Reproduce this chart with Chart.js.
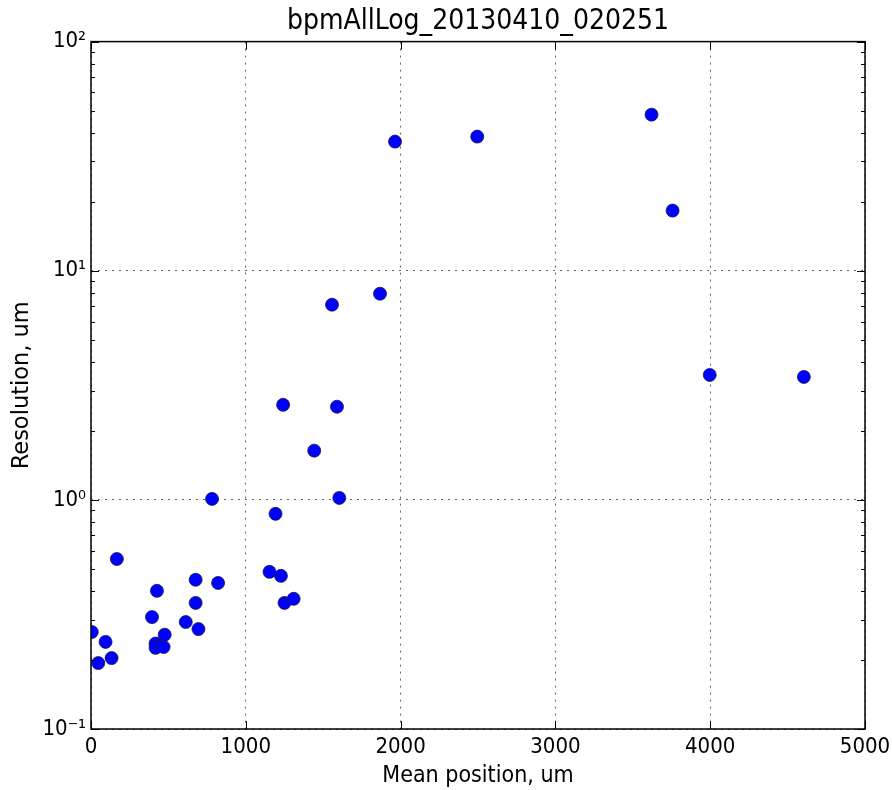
<!DOCTYPE html>
<html>
<head>
<meta charset="utf-8">
<script src="https://cdn.jsdelivr.net/npm/chart.js@4"></script>
<style>
  html, body { margin: 0; padding: 0; background: #fff; }
  #wrap { width: 892px; height: 790px; }
</style>
</head>
<body>
<div id="wrap"><canvas id="chart" width="892" height="790"></canvas></div>
<script>
// mean position (um) and resolution (um)
const meanPos = [5, 47, 94, 133, 167, 394, 426, 417, 417, 469, 476, 612, 676, 676, 694, 821, 782,
  1153, 1227, 1250, 1309, 1192, 1241, 1442, 1557, 1589, 1604, 1867, 1964, 2495, 3621, 3757, 3997, 4605];
const resolution = [0.265, 0.194, 0.240, 0.204, 0.552, 0.308, 0.401, 0.236, 0.226, 0.228, 0.258, 0.293,
  0.448, 0.355, 0.273, 0.434, 1.01, 0.485, 0.466, 0.355, 0.370, 0.869, 2.60, 1.64, 7.11, 2.55, 1.02,
  7.94, 36.6, 38.5, 48.0, 18.3, 3.51, 3.44];
const xTicks = [0, 1000, 2000, 3000, 4000, 5000];
const yTicks = [0.1, 1, 10, 100];
const yTickLabels = ['10⁻¹', '10⁰', '10¹', '10²'];

const FONT = "'DejaVu Sans Condensed', 'DejaVu Sans', sans-serif";

// frame + inward tick marks, like matplotlib
const frameTicks = {
  id: 'frameTicks',
  afterDatasetsDraw(chart) {
    const { ctx, chartArea: a, scales: { x, y } } = chart;
    ctx.save();
    ctx.strokeStyle = '#000';
    ctx.lineWidth = 1;
    ctx.beginPath();
    xTicks.forEach(v => {
      const px = Math.round(x.getPixelForValue(v)) + 0.5;
      ctx.moveTo(px, a.bottom); ctx.lineTo(px, a.bottom - 8);
      ctx.moveTo(px, a.top); ctx.lineTo(px, a.top + 8);
    });
    for (let e = -1; e <= 2; e++) {
      for (let m = 1; m <= 9; m++) {
        const v = m * Math.pow(10, e);
        if (v > 100) break;
        const len = m === 1 ? 8 : 4;
        const py = Math.round(y.getPixelForValue(v)) + 0.5;
        ctx.moveTo(a.left, py); ctx.lineTo(a.left + len, py);
        ctx.moveTo(a.right, py); ctx.lineTo(a.right - len, py);
      }
    }
    ctx.stroke();
    ctx.lineWidth = 1.5;
    ctx.strokeRect(a.left, a.top, a.right - a.left, a.bottom - a.top);
    ctx.restore();
  }
};

new Chart(document.getElementById('chart'), {
  type: 'scatter',
  data: {
    datasets: [{
      data: meanPos.map((v, i) => ({ x: v, y: resolution[i] })),
      backgroundColor: '#0000ff',
      borderColor: '#1a1a40',
      borderWidth: 0.8,
      pointRadius: 6.5,
      pointHoverRadius: 6.5
    }]
  },
  options: {
    responsive: false,
    animation: false,
    layout: { padding: { left: 0, right: 27, top: 0, bottom: 0 } },
    plugins: {
      legend: { display: false },
      tooltip: { enabled: false },
      title: {
        display: true,
        fullSize: false,
        text: 'bpmAllLog_20130410_020251',
        color: '#000',
        font: { family: FONT, size: 28, weight: 'normal' },
        padding: { top: 5, bottom: 3 }
      }
    },
    scales: {
      x: {
        type: 'linear',
        min: 0,
        max: 5000,
        afterBuildTicks: s => { s.ticks = xTicks.map(v => ({ value: v })); },
        ticks: { color: '#000', font: { family: FONT, size: 22 }, padding: 5, maxRotation: 0, callback: v => String(v) },
        grid: { color: '#666', lineWidth: 1, drawTicks: false },
        border: { display: false, dash: [2, 5] },
        title: { display: true, text: 'Mean position, um', color: '#000', font: { family: FONT, size: 23 }, padding: { top: 0, bottom: 0 } },
        afterFit: s => { s.height = 61; s.paddingLeft = 0; s.paddingRight = 0; }
      },
      y: {
        type: 'logarithmic',
        min: 0.1,
        max: 100,
        afterBuildTicks: s => { s.ticks = yTicks.map(v => ({ value: v, major: true })); },
        ticks: {
          color: '#000',
          font: { family: FONT, size: 22 },
          padding: 5,
          callback: (v) => yTickLabels[yTicks.indexOf(v)] ?? ''
        },
        grid: { color: '#666', lineWidth: 1, drawTicks: false },
        border: { display: false, dash: [2, 5] },
        title: { display: true, text: 'Resolution, um', color: '#000', font: { family: "'DejaVu Sans', sans-serif", size: 22.5 }, padding: { top: 9, bottom: 0 } },
        afterFit: s => { s.width = 91; s.paddingTop = 0; s.paddingBottom = 0; }
      }
    }
  },
  plugins: [frameTicks]
});
</script>
</body>
</html>
